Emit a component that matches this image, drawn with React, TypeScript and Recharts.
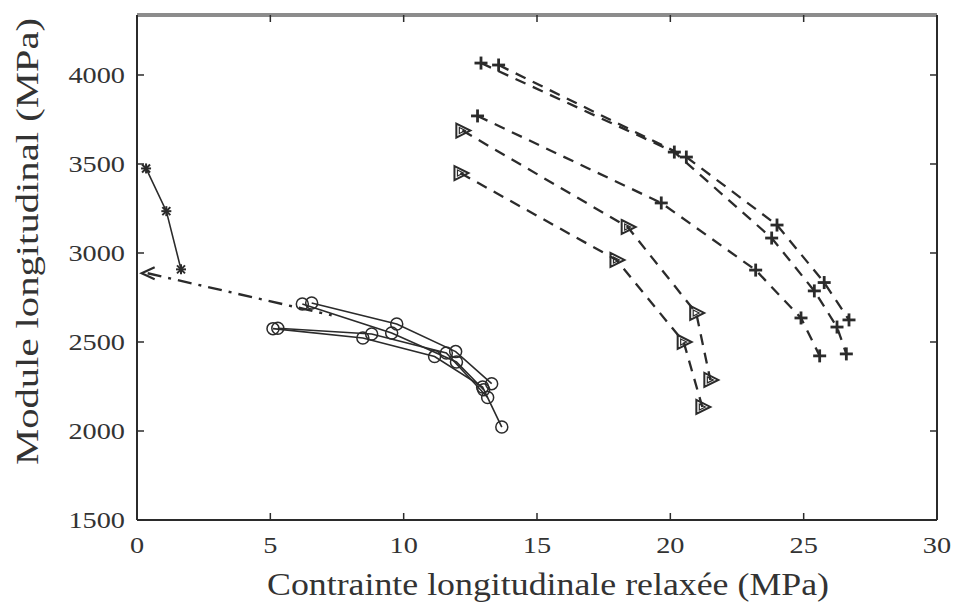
import React from "react";
import { ScatterChart, Scatter, XAxis, YAxis } from "recharts";

const xTicks = [0, 5, 10, 15, 20, 25, 30];
const yTicks = [1500, 2000, 2500, 3000, 3500, 4000];

// solid line, asterisk markers (near the y axis)
const starSeries = [
  { x: 0.34, y: 3475 },
  { x: 1.1, y: 3235 },
  { x: 1.65, y: 2908 },
];

// dash-dot line with an arrow marker at its start
const dashDotSeries = [
  { x: 0.4, y: 2886 },
  { x: 7.3, y: 2650 },
];

// solid lines, circle markers
const circleA = [
  { x: 5.1, y: 2575 },
  { x: 8.47, y: 2522 },
  { x: 11.16, y: 2418 },
  { x: 12.96, y: 2247 },
  { x: 13.68, y: 2022 },
];
const circleB = [
  { x: 5.28, y: 2577 },
  { x: 8.8, y: 2545 },
  { x: 11.6, y: 2438 },
  { x: 13.15, y: 2188 },
];
const circleC = [
  { x: 6.2, y: 2713 },
  { x: 9.55, y: 2551 },
  { x: 11.98, y: 2388 },
  { x: 13.0, y: 2232 },
];
const circleD = [
  { x: 6.55, y: 2719 },
  { x: 9.74, y: 2601 },
  { x: 11.95, y: 2446 },
  { x: 13.3, y: 2266 },
];

// dashed lines, plus markers
const plusA = [
  { x: 12.9, y: 4067 },
  { x: 20.15, y: 3567 },
  { x: 23.8, y: 3084 },
  { x: 25.4, y: 2787 },
  { x: 26.25, y: 2584 },
  { x: 26.6, y: 2433 },
];
const plusB = [
  { x: 13.56, y: 4056 },
  { x: 20.6, y: 3539 },
  { x: 24.0, y: 3157 },
  { x: 25.77, y: 2834 },
  { x: 26.7, y: 2624 },
];
const plusC = [
  { x: 12.77, y: 3770 },
  { x: 19.66, y: 3281 },
  { x: 23.2, y: 2904 },
  { x: 24.9, y: 2635 },
  { x: 25.6, y: 2422 },
];

// dashed lines, right-pointing triangle markers
const triA = [
  { x: 12.2, y: 3688 },
  { x: 18.4, y: 3146 },
  { x: 20.97, y: 2663 },
  { x: 21.5, y: 2287 },
];
const triB = [
  { x: 12.13, y: 3449 },
  { x: 17.98, y: 2961 },
  { x: 20.5, y: 2500 },
  { x: 21.2, y: 2135 },
];

const INK = "#2b2b2b";
const TEXT = "#333333";
const serifStyle = { fontFamily: '"Liberation Serif", "Times New Roman", Times, serif' };

const solid = { stroke: INK, strokeWidth: 1.6 };
const dashed = { stroke: INK, strokeWidth: 2.3, strokeDasharray: "11 8" };
const dashDot = { stroke: INK, strokeWidth: 2.4, strokeDasharray: "14 7 3 7" };

const Star = ({ cx, cy }: any) => (
  <g stroke={INK} strokeWidth={2}>
    <line x1={cx - 5} y1={cy} x2={cx + 5} y2={cy} />
    <line x1={cx} y1={cy - 5} x2={cx} y2={cy + 5} />
    <line x1={cx - 4} y1={cy - 4} x2={cx + 4} y2={cy + 4} />
    <line x1={cx - 4} y1={cy + 4} x2={cx + 4} y2={cy - 4} />
  </g>
);

const Ring = ({ cx, cy }: any) => (
  <circle cx={cx} cy={cy} r={6} fill="none" stroke={INK} strokeWidth={1.5} />
);

const Plus = ({ cx, cy }: any) => (
  <g stroke={INK} strokeWidth={2.8}>
    <line x1={cx - 6.5} y1={cy} x2={cx + 6.5} y2={cy} />
    <line x1={cx} y1={cy - 6.5} x2={cx} y2={cy + 6.5} />
  </g>
);

const TriRight = ({ cx, cy }: any) => (
  <g fill="none" stroke={INK} strokeWidth={2}>
    <path d={`M${cx - 6},${cy - 7} L${cx + 8},${cy} L${cx - 6},${cy + 7} Z`} />
    <path d={`M${cx - 3},${cy - 3} L${cx + 3},${cy} L${cx - 3},${cy + 3} Z`} strokeWidth={1.2} />
  </g>
);

const ArrowLeft = ({ cx, cy }: any) => (
  <g fill="none" stroke={INK} strokeWidth={2.2}>
    <path d={`M${cx + 7},${cy - 6} L${cx - 6},${cy} L${cx + 7},${cy + 6}`} />
  </g>
);

const NoMark = () => <g />;

const BottomTick = ({ x, y, payload }: any) => (
  <g>
    <line x1={x} x2={x} y1={y} y2={y - 7} stroke={INK} strokeWidth={1.5} />
    <text
      transform={`translate(${x},${y + 33}) scale(1.18,1)`}
      textAnchor="middle"
      style={serifStyle}
      fontSize={24}
      fill={TEXT}
    >
      {payload.value}
    </text>
  </g>
);

const LeftTick = ({ x, y, payload }: any) => (
  <g>
    <line x1={x} x2={x + 7} y1={y} y2={y} stroke={INK} strokeWidth={1.5} />
    <text
      transform={`translate(${x - 12},${y + 8}) scale(1.18,1)`}
      textAnchor="end"
      style={serifStyle}
      fontSize={24}
      fill={TEXT}
    >
      {payload.value}
    </text>
  </g>
);

const TopTick = ({ x, y }: any) => (
  <line x1={x} x2={x} y1={y} y2={y + 7} stroke={INK} strokeWidth={1.5} />
);

const RightTick = ({ x, y }: any) => (
  <line x1={x} x2={x - 7} y1={y} y2={y} stroke={INK} strokeWidth={1.5} />
);

const XTitle = ({ viewBox }: any) => (
  <text
    x={viewBox.x + viewBox.width / 2 + 11}
    y={viewBox.y + 75}
    textAnchor="middle"
    style={serifStyle}
    fontSize={31}
    fill={TEXT}
    textLength={562}
    lengthAdjust="spacingAndGlyphs"
  >
    Contrainte longitudinale relaxée (MPa)
  </text>
);

const YTitle = ({ viewBox }: any) => (
  <text
    transform={`translate(${viewBox.x + 38},${viewBox.y + viewBox.height / 2 - 26}) rotate(-90)`}
    textAnchor="middle"
    style={serifStyle}
    fontSize={31}
    fill={TEXT}
    textLength={447}
    lengthAdjust="spacingAndGlyphs"
  >
    Module longitudinal (MPa)
  </text>
);

export default function App() {
  return (
    <div style={{ position: "fixed", left: 0, top: 0, width: 958, height: 603, background: "#fff" }}>
      <ScatterChart width={958} height={603} margin={{ top: 14, right: 20, left: 0, bottom: 33 }}>
        <XAxis
          xAxisId={0}
          type="number"
          dataKey="x"
          domain={[0, 30]}
          ticks={xTicks}
          allowDataOverflow
          height={50}
          tickSize={0}
          tickMargin={0}
          tickLine={false}
          axisLine={{ stroke: INK, strokeWidth: 2 }}
          tick={<BottomTick />}
          label={<XTitle />}
        />
        <XAxis
          xAxisId="top"
          orientation="top"
          type="number"
          dataKey="x"
          domain={[0, 30]}
          ticks={xTicks}
          allowDataOverflow
          height={1}
          tickSize={0}
          tickMargin={0}
          tickLine={false}
          axisLine={{ stroke: "#8c8c8c", strokeWidth: 4 }}
          tick={<TopTick />}
        />
        <YAxis
          yAxisId={0}
          type="number"
          dataKey="y"
          domain={[1500, 4337]}
          ticks={yTicks}
          allowDataOverflow
          width={137}
          tickSize={0}
          tickMargin={0}
          tickLine={false}
          axisLine={{ stroke: INK, strokeWidth: 2 }}
          tick={<LeftTick />}
          label={<YTitle />}
        />
        <YAxis
          yAxisId="right"
          orientation="right"
          type="number"
          dataKey="y"
          domain={[1500, 4337]}
          ticks={yTicks}
          allowDataOverflow
          width={1}
          tickSize={0}
          tickMargin={0}
          tickLine={false}
          axisLine={{ stroke: INK, strokeWidth: 2 }}
          tick={<RightTick />}
        />

        <Scatter data={starSeries} line={solid} lineType="joint" shape={Star} isAnimationActive={false} />
        <Scatter data={dashDotSeries} line={dashDot} lineType="joint" shape={NoMark} isAnimationActive={false} />
        <Scatter data={dashDotSeries.slice(0, 1)} shape={ArrowLeft} isAnimationActive={false} />
        <Scatter data={circleA} line={solid} lineType="joint" shape={Ring} isAnimationActive={false} />
        <Scatter data={circleB} line={solid} lineType="joint" shape={Ring} isAnimationActive={false} />
        <Scatter data={circleC} line={solid} lineType="joint" shape={Ring} isAnimationActive={false} />
        <Scatter data={circleD} line={solid} lineType="joint" shape={Ring} isAnimationActive={false} />
        <Scatter data={plusA} line={dashed} lineType="joint" shape={Plus} isAnimationActive={false} />
        <Scatter data={plusB} line={dashed} lineType="joint" shape={Plus} isAnimationActive={false} />
        <Scatter data={plusC} line={dashed} lineType="joint" shape={Plus} isAnimationActive={false} />
        <Scatter data={triA} line={dashed} lineType="joint" shape={TriRight} isAnimationActive={false} />
        <Scatter data={triB} line={dashed} lineType="joint" shape={TriRight} isAnimationActive={false} />
      </ScatterChart>
    </div>
  );
}
